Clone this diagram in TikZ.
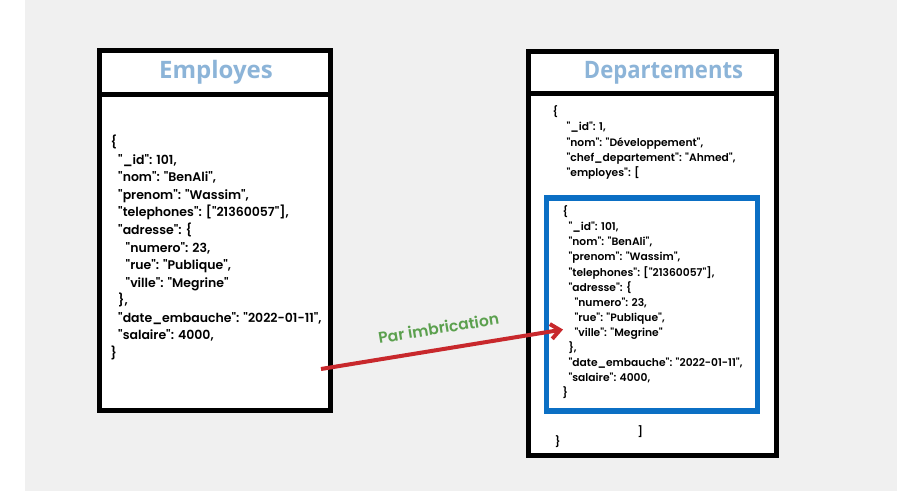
\documentclass[tikz,border=0pt]{standalone}
\usepackage{fontspec}
\usepackage{xcolor}
\usetikzlibrary{positioning,arrows.meta}
\newfontfamily\codefont{Poppins}[UprightFont={* SemiBold}]
\newfontfamily\titlefont{Open Sans}
\newfontfamily\titlefontnarrow{Open Sans}[FakeStretch=0.92]
\definecolor{titleblue}{HTML}{8CB4D8}
\definecolor{nestblue}{HTML}{0B6FC4}
\definecolor{linkred}{HTML}{C8282C}
\definecolor{linkgreen}{HTML}{5BA04E}
\definecolor{pagegray}{HTML}{F0F0F0}
\newcommand{\ind}{\hspace*{7.5pt}}
\newcommand{\indr}{\hspace*{6pt}}

\begin{document}
\begin{tikzpicture}[x=1pt,y=-1pt,
  frame/.style={draw, line width=5pt, fill=white, outer sep=0pt, inner sep=0pt},
  tabletitle/.style={frame},
  json/.style={anchor=north west, inner sep=0pt, align=left}]
\fill[white] (0,0) rectangle (897,491);
\fill[pagegray] (25,0) rectangle (897,491);
\useasboundingbox (0,0) rectangle (897,491);

% Employes
\node[tabletitle, minimum width=231pt, minimum height=44pt] (empTitle) at (215.4,72.7) {};
\node[frame, minimum width=231pt, minimum height=316pt, below=0pt of empTitle] (empBody) {};
\node[font=\titlefont\bfseries\fontsize{24}{28}\selectfont, text=titleblue] (empName) at (216,72) {Employes};
\node[json, font=\codefont\fontsize{12.5}{17.55}\selectfont] (empJson) at (110.5,135) {%
\{\\
\ind"\_id": 101,\\
\ind"nom": "BenAli",\\
\ind"prenom": "Wassim",\\
\ind"telephones": ["21360057"],\\
\ind"adresse": \{\\
\ind\ind"numero": 23,\\
\ind\ind"rue": "Publique",\\
\ind\ind"ville": "Megrine"\\
\ind\},\\
\ind"date\_embauche": "2022-01-11",\\
\ind"salaire": 4000,\\
\}};

% Departements
\node[tabletitle, minimum width=248pt, minimum height=42pt] (depTitle) at (652,72.9) {};
\node[frame, minimum width=248pt, minimum height=362pt, below=0pt of depTitle] (depBody) {};
\node[font=\titlefontnarrow\bfseries\fontsize{24}{28}\selectfont, text=titleblue] (depName) at (663.5,72.5) {Departements};
\node[json, font=\codefont\fontsize{10.7}{15.2}\selectfont] (depJson) at (552.3,105.5) {%
\{\\
\hspace*{14pt}"\_id": 1,\\
\hspace*{14pt}"nom": "Développement",\\
\hspace*{14pt}"chef\_departement": "Ahmed",\\
\hspace*{14pt}"employes": [};
\node[frame, draw=nestblue, line width=5.5pt, minimum width=211pt, minimum height=213pt] (nested) at (652.2,304.3) {};
\node[json, font=\codefont\fontsize{10.7}{15.1}\selectfont] (nestJson) at (562.3,205.5) {%
\{\\
\indr"\_id": 101,\\
\indr"nom": "BenAli",\\
\indr"prenom": "Wassim",\\
\indr"telephones": ["21360057"],\\
\indr"adresse": \{\\
\indr\indr"numero": 23,\\
\indr\indr"rue": "Publique",\\
\indr\indr"ville": "Megrine"\\
\indr\},\\
\indr"date\_embauche": "2022-01-11",\\
\indr"salaire": 4000,\\
\}};
\node[font=\codefont\fontsize{10.7}{15}\selectfont, anchor=base west, inner sep=0pt] (depClose) at (637.3,435) {]};
\node[font=\codefont\fontsize{10.7}{15}\selectfont, anchor=base west, inner sep=0pt] (depEnd) at (555,445) {\}};

% imbrication
\coordinate (from) at (321,369);
\coordinate (to) at (563,329.5);
\draw[linkred, line width=4pt, -{Straight Barb[length=9pt,width=15pt]}] (from) -- node[sloped, above=10pt, text=linkgreen, font=\codefont\fontsize{15.5}{18}\selectfont] (linkLabel) {Par imbrication} (to);
\end{tikzpicture}
\end{document}
